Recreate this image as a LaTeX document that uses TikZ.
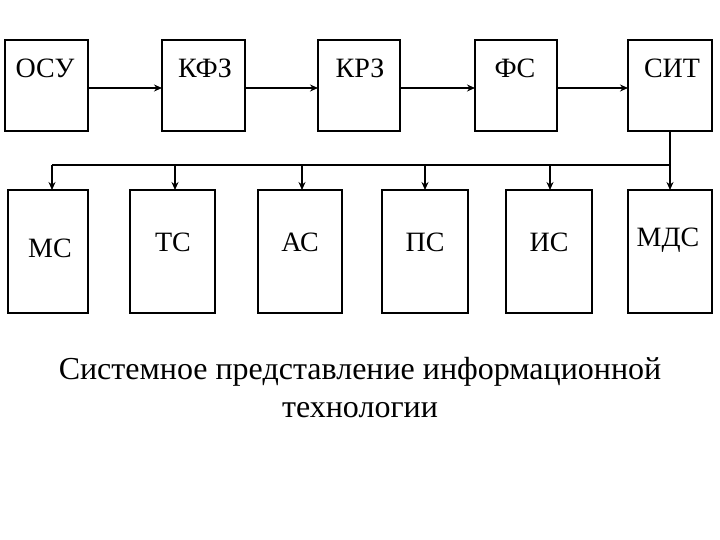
\documentclass[tikz,border=0pt]{standalone}
\usepackage{fontspec}
\usetikzlibrary{arrows.meta}
\setmainfont{Liberation Serif}
\begin{document}
\begin{tikzpicture}[x=1pt,y=-1pt,
  lab/.style={font=\fontsize{28}{30}\selectfont},
  arr/.style={line width=1.4pt,-{Stealth[length=8pt,width=7pt]}}]
\useasboundingbox (0,0) rectangle (720,540);
\foreach \n/\l/\r/\t/\tx in {osu/5/88/ОСУ/45, kfz/162/245/КФЗ/205, krz/318/400/КРЗ/360, fs/475/557/ФС/515, sit/628/712/СИТ/672}{
  \draw[line width=1.2pt] (\l,40) rectangle (\r,131);
  \coordinate (\n-w) at (\l,88);
  \coordinate (\n-e) at (\r,88);
  \node[lab] (\n-t) at (\tx,68) {\t};
}
\draw[arr] (osu-e) -- (kfz-w);
\draw[arr] (kfz-e) -- (krz-w);
\draw[arr] (krz-e) -- (fs-w);
\draw[arr] (fs-e) -- (sit-w);
\foreach \n/\l/\r/\t/\tx/\ty/\cx in {ms/8/88/МС/50/248/52, ts/130/215/ТС/173/242/175, as/258/342/АС/300/242/302, ps/382/468/ПС/425/242/425, is/506/592/ИС/549/242/550, mds/628/712/МДС/668/240/670}{
  \draw[line width=1.2pt] (\l,190) rectangle (\r,313);
  \coordinate (\n-n) at (\cx,190);
  \coordinate (\n-b) at (\cx,165);
  \node[lab] (\n-t) at (\tx,\ty) {\t};
}
\coordinate (sit-s) at (670,131);
\draw[line width=1.2pt] (sit-s) -- (mds-b) -- (ms-b);
\foreach \n in {ms,ts,as,ps,is,mds} \draw[arr] (\n-b) -- (\n-n);
\node[font=\fontsize{32}{38}\selectfont,align=center] (cap) at (360,388) {Системное представление информационной\\технологии};
\end{tikzpicture}
\end{document}
